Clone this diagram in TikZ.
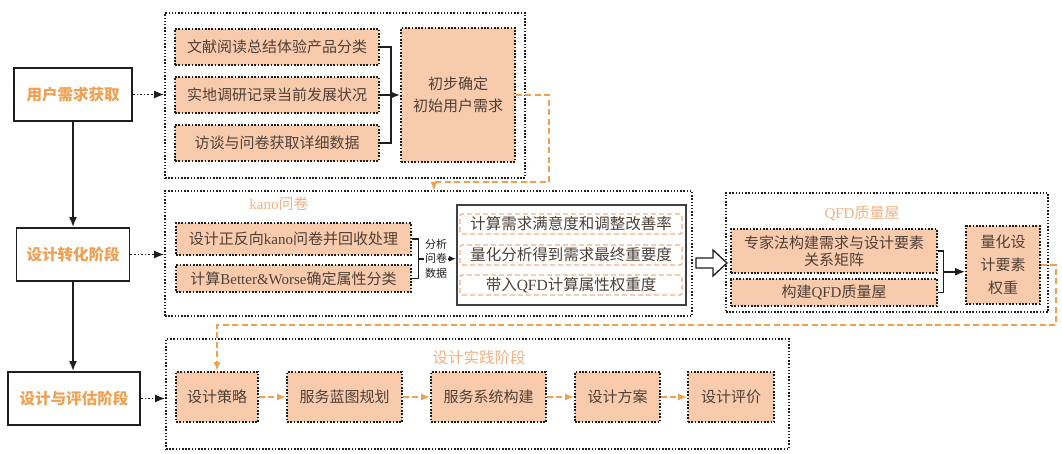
\documentclass[tikz,border=0pt]{standalone}
\usepackage{fontspec}
\setmainfont{Noto Sans CJK SC}
\newfontfamily\lat{Liberation Serif}
\usetikzlibrary{arrows.meta}
\definecolor{peach}{HTML}{F8CBAD}
\definecolor{org}{HTML}{F0A050}
\definecolor{ltorg}{HTML}{F4B183}
\definecolor{txt}{HTML}{4E4038}
\definecolor{ink}{HTML}{1E1E1E}
\begin{document}
\begin{tikzpicture}[x=1pt,y=-1pt,
  grp/.style={draw=ink, dash pattern=on 1.5pt off 1.7pt, line width=1.6pt, inner sep=0pt},
  pbox/.style={draw=ink, fill=peach, dash pattern=on 1.7pt off 1.6pt, line width=1.9pt, text=txt,
    font=\fontsize{15}{22}\selectfont, inner sep=0pt, align=center},
  lbox/.style={draw=ink, line width=1.9pt, fill=white, text=org,
    font=\fontsize{15.5}{20}\selectfont\bfseries, inner sep=0pt},
  dbox/.style={draw=ltorg, dash pattern=on 5pt off 3pt, line width=1.3pt, rounded corners=2pt,
    fill=white, text=txt, font=\fontsize{15.5}{20}\selectfont, inner sep=0pt},
  sbox/.style={draw=ink!85, line width=2.1pt, inner sep=0pt},
  ttl/.style={text=ltorg, font=\fontsize{15}{18}\selectfont, inner sep=0pt},
  lnk/.style={draw=ink, line width=1.6pt},
  arr/.style={lnk, -{Latex[length=10pt,width=8pt]}},
  darr/.style={arr, dash pattern=on 1.6pt off 2pt},
  oarr/.style={draw=org, line width=1.5pt, dash pattern=on 6pt off 3.5pt, -{Latex[length=9pt,width=7pt]}},
]
\useasboundingbox (0,0) rectangle (1062,454);

% left column
\node[lbox, minimum width=118, minimum height=53] (l1) at (73,94.5) {用户需求获取};
\node[lbox, minimum width=113, minimum height=53] (l2) at (73,254.5) {设计转化阶段};
\node[lbox, minimum width=132, minimum height=53] (l3) at (74,398.5) {设计与评估阶段};
\draw[arr] (l1.south) -- (l1.south |- l2.north);
\draw[arr] (l2.south) -- (l2.south |- l3.north);

% group 1
\node[grp, minimum width=360, minimum height=165] (g1) at (345,95.5) {};
\node[pbox, minimum width=204, minimum height=36] (a1) at (277,47) {文献阅读总结体验产品分类};
\node[pbox, minimum width=204, minimum height=36] (a2) at (277,95) {实地调研记录当前发展状况};
\node[pbox, minimum width=204, minimum height=36] (a3) at (277,143) {访谈与问卷获取详细数据};
\node[pbox, minimum width=114, minimum height=134] (a4) at (458,95) {初步确定\\初始用户需求};
\coordinate (br1) at (391,95);
\draw[lnk] (a1.east) -| (br1) |- (a3.east);
\draw[arr] (a2.east) -- (a4.west);
\draw[darr] (l1.east) -- (g1.west |- l1.east);

% group 2
\node[grp, minimum width=527, minimum height=125] (g2) at (428.5,253.5) {};
\node[ttl] (t2) at (279,204) {{\lat kano}问卷};
\node[pbox, minimum width=235, minimum height=32] (b1) at (293.5,239) {设计正反向{\lat kano}问卷并回收处理};
\node[pbox, minimum width=235, minimum height=27] (b2) at (293.5,278.5) {计算{\lat Better\&Worse}确定属性分类};
\node[sbox, minimum width=229, minimum height=100] (s) at (571.5,255) {};
\node[dbox, minimum width=222, minimum height=20] (d1) at (571,224) {计算需求满意度和调整改善率};
\node[dbox, minimum width=222, minimum height=20] (d2) at (571,255) {量化分析得到需求最终重要度};
\node[dbox, minimum width=222, minimum height=20] (d3) at (571,285) {带入{\lat QFD}计算属性权重度};
\coordinate (br2) at (418.5,258.75);
\draw[lnk] (b1.east) -| (br2) |- (b2.east);
\draw[lnk, -{Latex[length=7pt,width=6pt]}] (br2) -- (s.west |- br2);
\node[fill=white, inner sep=0.6pt, align=center, text=ink, font=\fontsize{11}{14.5}\selectfont] (lab) at (436,258.75) {分析\\问卷\\数据};
\draw[darr] (l2.east) -- (g2.west |- l2.east);

% orange link 1
\coordinate (o1) at (549,182);
\coordinate (g2n) at (434,191);
\draw[oarr] (a4.east) -| (o1) -| (g2n);

% group 3
\node[grp, minimum width=322, minimum height=119] (g3) at (887,252.5) {};
\node[ttl] (t3) at (862,213) {{\lat QFD}质量屋};
\node[pbox, minimum width=206, minimum height=44, font=\fontsize{15}{17}\selectfont] (c1) at (834,251) {专家法构建需求与设计要素\\关系矩阵};
\node[pbox, minimum width=206, minimum height=27] (c2) at (834,292.5) {构建{\lat QFD}质量屋};
\node[pbox, minimum width=74, minimum height=78, font=\fontsize{15}{23}\selectfont] (c3) at (1003,265) {量化设\\计要素\\权重};
\coordinate (br3) at (943.5,271.75);
\draw[lnk] (c1.east) -| (br3) |- (c2.east);
\draw[arr] (br3) -- (c3.west |- br3);

% hollow arrow
\draw[line width=1.3pt, draw=ink, fill=white] (696,258) -- (713,258) -- (713,250) -- (727,263) -- (713,276) -- (713,268) -- (696,268) -- cycle;

% group 4
\node[grp, minimum width=623, minimum height=110] (g4) at (477.5,394) {};
\node[ttl, font=\fontsize{15.5}{18}\selectfont] (t4) at (479,358) {设计实践阶段};
\node[pbox, minimum width=82, minimum height=50] (e1) at (217,397) {设计策略};
\node[pbox, minimum width=115, minimum height=50] (e2) at (344.5,397) {服务蓝图规划};
\node[pbox, minimum width=115, minimum height=50] (e3) at (488.5,397) {服务系统构建};
\node[pbox, minimum width=85, minimum height=50] (e4) at (617.5,397) {设计方案};
\node[pbox, minimum width=86, minimum height=50] (e5) at (731,397) {设计评价};
\draw[oarr] (e1) -- (e2);
\draw[oarr] (e2) -- (e3);
\draw[oarr] (e3) -- (e4);
\draw[oarr] (e4) -- (e5);
\draw[darr] (l3.east) -- (g4.west |- l3.east);

% orange link 2
\coordinate (o2) at (1056,325);
\draw[oarr] (c3.east) -| (o2) -| (e1.north);
\end{tikzpicture}
\end{document}
